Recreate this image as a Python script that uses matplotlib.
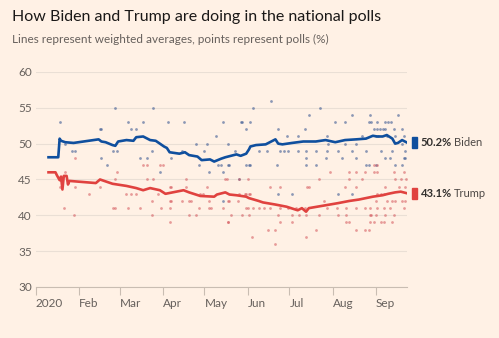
import numpy as np
import pandas as pd
import matplotlib
matplotlib.use("Agg")
import matplotlib.pyplot as plt
from matplotlib.patches import Rectangle

start = pd.Timestamp("2020-01-01")

# weighted averages: (days since 1 Jan, value)
biden_avg_days = [9, 16, 17, 18, 21, 27, 45, 47, 50, 55, 57, 59, 65, 70, 72, 77, 80, 82, 86,
                  89, 92, 94, 96, 103, 107, 110, 116, 119, 125, 128, 133, 136, 140, 144, 147,
                  151, 153, 154, 158, 165, 169, 172, 174, 177, 184, 192, 201, 208, 215, 222,
                  230, 237, 242, 245, 249, 252, 256, 258, 260, 263, 266]
biden_avg = [48.1, 48.1, 50.7, 50.4, 50.2, 50.1, 50.6, 50.3, 50.2, 49.8, 49.7, 50.3, 50.5,
             50.4, 50.9, 51.0, 50.7, 50.5, 50.4, 50.0, 49.6, 49.4, 48.8, 48.6, 48.8, 48.4,
             48.2, 47.7, 47.8, 47.5, 47.9, 48.1, 48.3, 48.5, 48.3, 48.6, 49.2, 49.6, 49.8,
             49.9, 50.3, 50.6, 50.0, 49.9, 50.1, 50.3, 50.3, 50.5, 50.2, 50.5, 50.6, 50.7,
             51.1, 51.0, 51.0, 51.2, 50.7, 50.0, 50.1, 50.5, 50.2]

trump_avg_days = [9, 14, 15, 17, 18, 19, 20, 22, 23, 24, 43, 46, 55, 65, 72, 77, 82, 89, 93,
                  106, 110, 118, 128, 130, 136, 139, 144, 151, 153, 160, 163, 172, 180, 188,
                  191, 194, 196, 208, 217, 225, 232, 242, 249, 253, 258, 262, 266]
trump_avg = [46.0, 46.0, 45.6, 44.9, 45.4, 43.6, 45.5, 45.5, 44.3, 44.8, 44.5, 45.0, 44.4,
             44.1, 43.8, 43.5, 43.8, 43.5, 43.0, 43.5, 43.2, 42.7, 42.6, 42.9, 43.2, 42.9,
             42.8, 42.6, 42.4, 42.0, 41.8, 41.5, 41.2, 40.7, 41.0, 40.5, 41.0, 41.4, 41.7,
             42.0, 42.2, 42.6, 42.8, 43.0, 43.2, 43.3, 43.1]

# individual polls
biden_poll_days = [17, 21, 26, 28, 46, 47, 47, 51, 55, 57, 58, 66, 68, 72, 75, 77, 80, 83, 84,
                   89, 95, 97, 105, 106, 115, 117, 121, 123, 124, 129, 131, 133, 134, 134, 134,
                   138, 138, 139, 143, 146, 147, 148, 151, 151, 153, 154, 154, 156, 160, 166,
                   169, 173, 174, 174, 175, 178, 180, 181, 184, 188, 188, 193, 194, 194, 194,
                   196, 204, 227, 240, 260, 215, 222, 239, 241, 245, 251, 253, 255, 243, 245,
                   247, 249, 251, 257, 263, 209, 234, 244, 246, 252, 258, 264, 210, 222, 230,
                   263, 201, 209, 217, 227, 237, 248, 256, 265, 208, 220, 230, 251, 254, 264,
                   265, 201, 237, 239, 244, 258, 263, 217, 227]
biden_poll_vals = [53, 50, 49, 49, 52, 52, 48, 47, 49, 55, 49, 53, 52, 52, 48, 53, 48, 49, 55,
                   46, 53, 48, 49, 53, 50, 47, 49, 50, 46, 51, 47, 47, 53, 46, 42,
                   47, 50, 47, 49, 45, 53, 53, 47, 52, 47, 53, 47, 55, 49, 49,
                   56, 47, 43, 52, 49, 49, 51, 49, 43, 51, 49, 52, 49, 47, 48,
                   54, 55, 54, 54, 54, 53, 53, 53, 53, 53, 53, 53, 53, 52, 52,
                   52, 52, 52, 52, 52, 51, 51, 51, 51, 51, 51, 51, 50, 50, 50,
                   50, 49, 49, 49, 49, 49, 49, 49, 49, 48, 48, 48, 48, 48, 48,
                   48, 47, 47, 47, 47, 47, 47, 43, 43]

trump_poll_days = [17, 20, 21, 27, 28, 28, 38, 46, 55, 57, 57, 58, 65, 66, 68, 72, 75, 77, 80,
                   80, 83, 83, 84, 88, 89, 90, 91, 96, 96, 97, 96, 96, 97, 105, 108, 108, 110,
                   111, 110, 115, 117, 118, 120, 123, 124, 126, 124, 134, 137, 138, 140, 139,
                   145, 146, 151, 151, 152, 148, 136, 146, 152, 168, 175, 195, 196, 150, 153,
                   154, 138, 156, 160, 164, 168, 175, 181, 153, 174, 184, 189, 194, 138, 175,
                   167, 172, 155, 194, 172, 203, 225, 234, 258, 262, 266, 222, 230, 251, 261,
                   265, 245, 248, 250, 207, 244, 252, 256, 258, 263, 265, 203, 217, 223, 240,
                   241, 244, 251, 257, 223, 225, 240, 243, 248, 201, 230, 239, 211, 225, 230,
                   236, 243, 245, 257, 264, 243, 245, 187, 193, 209, 216, 223, 230, 236, 240,
                   245, 250, 254, 264, 184, 250, 256, 236]
trump_poll_vals = [44, 41, 46, 40, 48, 44, 43, 44, 41, 41, 45, 46, 43, 41, 43, 43, 41, 47, 47,
                   45, 42, 40, 45, 43, 47, 41, 47, 41, 42, 42, 39, 44, 44, 42, 44, 45, 42,
                   42, 40, 40, 41, 43, 43, 44, 41, 41, 42, 41, 45, 39, 40, 42,
                   42, 43, 43, 41, 41, 40, 45, 45, 45, 44, 44, 44, 44, 43, 43,
                   43, 42, 41, 41, 41, 41, 41, 41, 40, 40, 40, 40, 40, 39, 39,
                   38, 38, 37, 37, 36, 45, 45, 45, 45, 45, 45, 44, 44, 44, 44,
                   44, 43, 43, 43, 42, 42, 42, 42, 42, 42, 42, 40, 40, 40, 40,
                   40, 40, 40, 40, 39, 39, 39, 39, 39, 38, 38, 38, 46, 46, 46,
                   46, 46, 46, 46, 46, 47, 47, 41, 41, 41, 41, 41, 41, 41, 41,
                   41, 41, 41, 41, 39, 39, 39, 38]

month_ticks = ["2020-01-01", "2020-02-01", "2020-03-01", "2020-04-01", "2020-05-01",
               "2020-06-01", "2020-07-01", "2020-08-01", "2020-09-01"]
month_labels = ["2020", "Feb", "Mar", "Apr", "May", "Jun", "Jul", "Aug", "Sep"]
y_ticks = [30, 35, 40, 45, 50, 55, 60]

candidates = ["Biden", "Trump"]
latest = [50.2, 43.1]

bg = "#fff1e5"
blue = "#0f4f9e"
red = "#e0423f"
grey = "#66605c"


def to_dates(days):
    return start + pd.to_timedelta(np.array(days), unit="D")


plt.rcParams["font.family"] = ["Lato", "DejaVu Sans"]

fig = plt.figure(figsize=(4.99, 3.38), dpi=100, facecolor=bg)
ax = fig.add_axes([0.0721, 0.151, 0.7435, 0.636], facecolor=bg)

ax.scatter(to_dates(biden_poll_days), biden_poll_vals, s=4, color="#3e5b94",
           alpha=0.6, linewidths=0, zorder=2)
ax.scatter(to_dates(trump_poll_days), trump_poll_vals, s=4, color="#d4545a",
           alpha=0.55, linewidths=0, zorder=2)

ax.plot(to_dates(biden_avg_days), biden_avg, color=blue, lw=1.9, zorder=3)
ax.plot(to_dates(trump_avg_days), trump_avg, color=red, lw=1.9, zorder=3)

ax.set_xlim(start, start + pd.Timedelta(days=266.5))
ax.set_ylim(30, 60)

for s in ["top", "right", "left"]:
    ax.spines[s].set_visible(False)
ax.spines["bottom"].set_color("#c9bdb2")
ax.spines["bottom"].set_linewidth(0.8)

ax.set_yticks(y_ticks)
ax.set_yticklabels([str(v) for v in y_ticks])
ax.yaxis.grid(True, color="#eadfd5", lw=0.8)
ax.set_axisbelow(True)
ax.tick_params(axis="y", length=0, pad=3, labelsize=8.5, labelcolor=grey)

ax.set_xticks(pd.to_datetime(month_ticks))
ax.set_xticklabels(month_labels)
ax.tick_params(axis="x", length=6, width=0.8, color="#c9bdb2", pad=2,
               labelsize=8.5, labelcolor=grey)
for lab in ax.get_xticklabels():
    lab.set_horizontalalignment("left")

# end-of-line labels
trans = ax.get_yaxis_transform()
for name, val, col in zip(candidates, latest, [blue, red]):
    ax.add_patch(Rectangle((1.013, val - 0.77), 0.014, 1.54, transform=trans,
                           color=col, clip_on=False))
    t = ax.text(1.037, val, f"{val}%", transform=trans, va="center", ha="left",
                fontsize=8, fontweight="bold", color="#33302e")
    ax.annotate(name, xy=(1, 0.5), xycoords=t, xytext=(1.5, 0),
                textcoords="offset points", va="center", ha="left",
                fontsize=8, color="#4d4845")

fig.text(0.024, 0.950, "How Biden and Trump are doing in the national polls",
         fontsize=11.5, color="#1a1817", va="center", ha="left")
fig.text(0.024, 0.882, "Lines represent weighted averages, points represent polls (%)",
         fontsize=8.5, color=grey, va="center", ha="left")

fig.savefig("out.png", dpi=100, facecolor=bg)
